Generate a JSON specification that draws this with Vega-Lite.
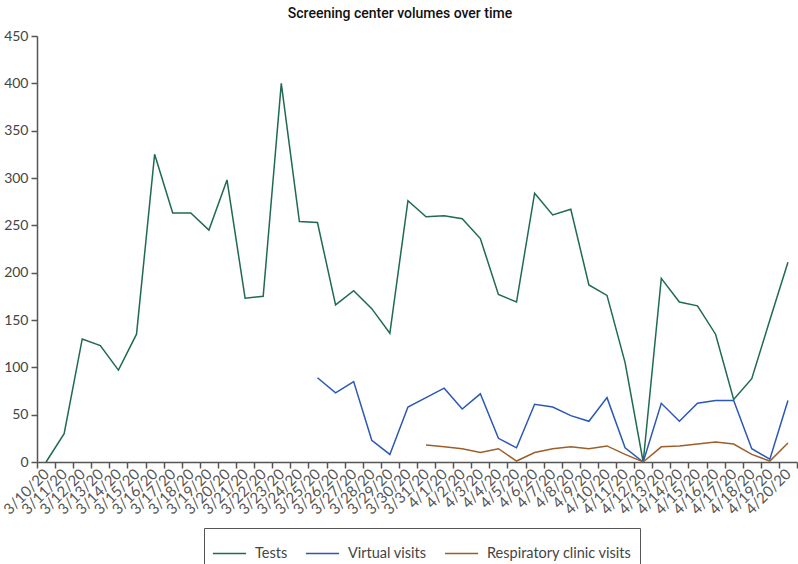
{
  "$schema": "https://vega.github.io/schema/vega-lite/v6.json",
  "width": 760,
  "height": 426,
  "autosize": {"type": "none"},
  "padding": {"left": 37, "top": 36, "right": 1, "bottom": 102},
  "background": "white",
  "title": {
    "text": "Screening center volumes over time",
    "font": "Roboto",
    "fontSize": 14,
    "fontWeight": 500,
    "color": "#111",
    "anchor": "middle",
    "dx": -17,
    "offset": 8
  },
  "config": {
    "view": {"stroke": null},
    "font": "Lato"
  },
  "data": {
    "values": [
      {"date": "3/10/20", "series": "Tests", "value": 0},
      {"date": "3/11/20", "series": "Tests", "value": 30},
      {"date": "3/12/20", "series": "Tests", "value": 130},
      {"date": "3/13/20", "series": "Tests", "value": 123},
      {"date": "3/14/20", "series": "Tests", "value": 97},
      {"date": "3/15/20", "series": "Tests", "value": 135},
      {"date": "3/16/20", "series": "Tests", "value": 325},
      {"date": "3/17/20", "series": "Tests", "value": 263},
      {"date": "3/18/20", "series": "Tests", "value": 263},
      {"date": "3/19/20", "series": "Tests", "value": 245},
      {"date": "3/20/20", "series": "Tests", "value": 298},
      {"date": "3/21/20", "series": "Tests", "value": 173},
      {"date": "3/22/20", "series": "Tests", "value": 175},
      {"date": "3/23/20", "series": "Tests", "value": 400},
      {"date": "3/24/20", "series": "Tests", "value": 254},
      {"date": "3/25/20", "series": "Tests", "value": 253},
      {"date": "3/26/20", "series": "Tests", "value": 166},
      {"date": "3/27/20", "series": "Tests", "value": 181},
      {"date": "3/28/20", "series": "Tests", "value": 162},
      {"date": "3/29/20", "series": "Tests", "value": 136},
      {"date": "3/30/20", "series": "Tests", "value": 276},
      {"date": "3/31/20", "series": "Tests", "value": 259},
      {"date": "4/1/20", "series": "Tests", "value": 260},
      {"date": "4/2/20", "series": "Tests", "value": 257},
      {"date": "4/3/20", "series": "Tests", "value": 236},
      {"date": "4/4/20", "series": "Tests", "value": 177},
      {"date": "4/5/20", "series": "Tests", "value": 169},
      {"date": "4/6/20", "series": "Tests", "value": 284},
      {"date": "4/7/20", "series": "Tests", "value": 261},
      {"date": "4/8/20", "series": "Tests", "value": 267},
      {"date": "4/9/20", "series": "Tests", "value": 187},
      {"date": "4/10/20", "series": "Tests", "value": 176},
      {"date": "4/11/20", "series": "Tests", "value": 105},
      {"date": "4/12/20", "series": "Tests", "value": 0},
      {"date": "4/13/20", "series": "Tests", "value": 194},
      {"date": "4/14/20", "series": "Tests", "value": 169},
      {"date": "4/15/20", "series": "Tests", "value": 165},
      {"date": "4/16/20", "series": "Tests", "value": 135},
      {"date": "4/17/20", "series": "Tests", "value": 66},
      {"date": "4/18/20", "series": "Tests", "value": 88},
      {"date": "4/19/20", "series": "Tests", "value": 150},
      {"date": "4/20/20", "series": "Tests", "value": 211},
      {"date": "3/25/20", "series": "Virtual visits", "value": 89},
      {"date": "3/26/20", "series": "Virtual visits", "value": 73},
      {"date": "3/27/20", "series": "Virtual visits", "value": 85},
      {"date": "3/28/20", "series": "Virtual visits", "value": 23},
      {"date": "3/29/20", "series": "Virtual visits", "value": 8},
      {"date": "3/30/20", "series": "Virtual visits", "value": 58},
      {"date": "3/31/20", "series": "Virtual visits", "value": 68},
      {"date": "4/1/20", "series": "Virtual visits", "value": 78},
      {"date": "4/2/20", "series": "Virtual visits", "value": 56},
      {"date": "4/3/20", "series": "Virtual visits", "value": 72},
      {"date": "4/4/20", "series": "Virtual visits", "value": 25},
      {"date": "4/5/20", "series": "Virtual visits", "value": 15},
      {"date": "4/6/20", "series": "Virtual visits", "value": 61},
      {"date": "4/7/20", "series": "Virtual visits", "value": 58},
      {"date": "4/8/20", "series": "Virtual visits", "value": 49},
      {"date": "4/9/20", "series": "Virtual visits", "value": 43},
      {"date": "4/10/20", "series": "Virtual visits", "value": 68},
      {"date": "4/11/20", "series": "Virtual visits", "value": 15},
      {"date": "4/12/20", "series": "Virtual visits", "value": 0},
      {"date": "4/13/20", "series": "Virtual visits", "value": 62},
      {"date": "4/14/20", "series": "Virtual visits", "value": 43},
      {"date": "4/15/20", "series": "Virtual visits", "value": 62},
      {"date": "4/16/20", "series": "Virtual visits", "value": 65},
      {"date": "4/17/20", "series": "Virtual visits", "value": 65},
      {"date": "4/18/20", "series": "Virtual visits", "value": 14},
      {"date": "4/19/20", "series": "Virtual visits", "value": 3},
      {"date": "4/20/20", "series": "Virtual visits", "value": 65},
      {"date": "3/31/20", "series": "Respiratory clinic visits", "value": 18},
      {"date": "4/1/20", "series": "Respiratory clinic visits", "value": 16},
      {"date": "4/2/20", "series": "Respiratory clinic visits", "value": 14},
      {"date": "4/3/20", "series": "Respiratory clinic visits", "value": 10},
      {"date": "4/4/20", "series": "Respiratory clinic visits", "value": 14},
      {"date": "4/5/20", "series": "Respiratory clinic visits", "value": 1},
      {"date": "4/6/20", "series": "Respiratory clinic visits", "value": 10},
      {"date": "4/7/20", "series": "Respiratory clinic visits", "value": 14},
      {"date": "4/8/20", "series": "Respiratory clinic visits", "value": 16},
      {"date": "4/9/20", "series": "Respiratory clinic visits", "value": 14},
      {"date": "4/10/20", "series": "Respiratory clinic visits", "value": 17},
      {"date": "4/11/20", "series": "Respiratory clinic visits", "value": 8},
      {"date": "4/12/20", "series": "Respiratory clinic visits", "value": 0},
      {"date": "4/13/20", "series": "Respiratory clinic visits", "value": 16},
      {"date": "4/14/20", "series": "Respiratory clinic visits", "value": 17},
      {"date": "4/15/20", "series": "Respiratory clinic visits", "value": 19},
      {"date": "4/16/20", "series": "Respiratory clinic visits", "value": 21},
      {"date": "4/17/20", "series": "Respiratory clinic visits", "value": 19},
      {"date": "4/18/20", "series": "Respiratory clinic visits", "value": 8},
      {"date": "4/19/20", "series": "Respiratory clinic visits", "value": 1},
      {"date": "4/20/20", "series": "Respiratory clinic visits", "value": 20}
    ]
  },
  "mark": {"type": "line", "strokeWidth": 1.5},
  "encoding": {
    "x": {
      "field": "date",
      "type": "ordinal",
      "sort": null,
      "bandPosition": 0.5,
      "scale": {"type": "band", "paddingInner": 0, "paddingOuter": 0},
      "axis": {
        "title": null,
        "tickBand": "extent",
        "labelAngle": -45,
        "labelAlign": "right",
        "labelBaseline": "middle",
        "labelFontSize": 15,
        "labelColor": "#555",
        "labelPadding": 3,
        "labelOverlap": false,
        "tickSize": 6,
        "tickColor": "#555",
        "tickWidth": 1.5,
        "domainColor": "#555",
        "domainWidth": 1.5
      }
    },
    "y": {
      "field": "value",
      "type": "quantitative",
      "scale": {"domain": [0, 450], "nice": false},
      "axis": {
        "title": null,
        "values": [0, 50, 100, 150, 200, 250, 300, 350, 400, 450],
        "grid": false,
        "labelFontSize": 14,
        "labelColor": "#444",
        "labelPadding": 3,
        "tickSize": 6,
        "tickColor": "#555",
        "tickWidth": 1.5,
        "domainColor": "#555",
        "domainWidth": 1.5
      }
    },
    "color": {
      "field": "series",
      "type": "nominal",
      "scale": {
        "domain": ["Tests", "Virtual visits", "Respiratory clinic visits"],
        "range": ["#1f6b4f", "#2b58b6", "#9c5f2a"]
      },
      "legend": {
        "title": null,
        "orient": "none",
        "legendX": 167,
        "legendY": 492,
        "direction": "horizontal",
        "strokeColor": "#555",
        "padding": 8,
        "symbolType": "stroke",
        "symbolSize": 1100,
        "symbolStrokeWidth": 1.5,
        "labelFontSize": 14.5,
        "labelColor": "#444",
        "columnPadding": 14,
        "labelOffset": 8
      }
    }
  }
}
